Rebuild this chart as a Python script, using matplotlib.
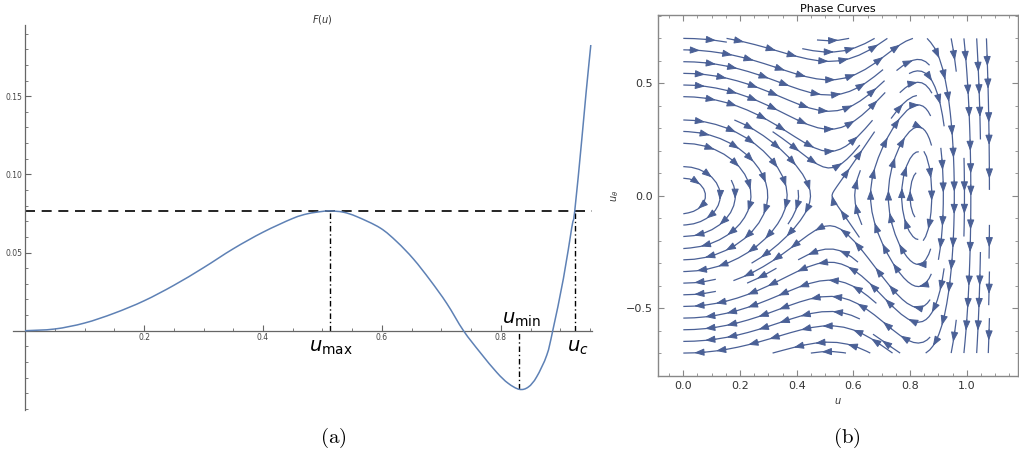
import numpy as np
import matplotlib
matplotlib.use("Agg")
import matplotlib.pyplot as plt
from matplotlib.patches import FancyArrowPatch, ArrowStyle, PathPatch
from matplotlib.path import Path
from matplotlib.ticker import MultipleLocator, FixedLocator, FormatStrFormatter, FuncFormatter

# ---- data ----
u_vals = [0.0, 0.05, 0.10, 0.15, 0.20, 0.25, 0.30, 0.35, 0.40, 0.45,
          0.475, 0.50, 0.513, 0.535, 0.558, 0.597, 0.625, 0.653, 0.681, 0.709,
          0.737, 0.765, 0.793, 0.812, 0.831, 0.846, 0.860, 0.877, 0.887, 0.905,
          0.919, 0.924, 0.936, 0.943, 0.951]
F_vals = [0.0, 0.0011, 0.0049, 0.0112, 0.0191, 0.0290, 0.0403, 0.0524, 0.0630, 0.0718,
          0.0748, 0.0763, 0.0766, 0.0758, 0.0729, 0.0657, 0.0569, 0.0458, 0.0323, 0.0174,
          0.0, -0.0139, -0.0267, -0.0336, -0.0375, -0.0360, -0.0295, -0.0156, 0.0, 0.0335,
          0.0660, 0.0766, 0.1230, 0.1520, 0.1827]
u_max, F_max = 0.513, 0.0766
u_min, F_min = 0.831, -0.0375
u_c = 0.924

x_major_a = [0.2, 0.4, 0.6, 0.8]
y_major_a = [0.05, 0.10, 0.15]

# phase-plane ranges
u_range = (0.0, 1.08)
ut_range = (-0.7, 0.7)

curve_col = "#5e81b5"
stream_col = "#4a6096"
axis_col = "#666666"

fig = plt.figure(figsize=(10.2, 4.55), dpi=100)

# ================= panel (a) =================
ax1 = fig.add_axes([13 / 1020, 1 - 410 / 455, 579 / 1020, 385 / 455])
ax1.set_xlim(-0.0202, 0.953)
ax1.set_ylim(-0.0507, 0.1955)
for s in ["top", "right"]:
    ax1.spines[s].set_visible(False)
ax1.spines["left"].set_position(("data", 0))
ax1.spines["bottom"].set_position(("data", 0))
for s in ["left", "bottom"]:
    ax1.spines[s].set_color(axis_col)
    ax1.spines[s].set_linewidth(0.9)
ax1.xaxis.set_major_locator(FixedLocator(x_major_a))
ax1.xaxis.set_minor_locator(MultipleLocator(0.05))
ax1.yaxis.set_major_locator(FixedLocator(y_major_a))
ax1.yaxis.set_minor_locator(MultipleLocator(0.01))
ax1.xaxis.set_major_formatter(FormatStrFormatter("%.1f"))
ax1.yaxis.set_major_formatter(FormatStrFormatter("%.2f"))
ax1.tick_params(which="both", direction="in", colors=axis_col, labelcolor="#444444",
                labelsize=5.5, pad=2)
ax1.tick_params(which="major", length=4, width=0.8)
ax1.tick_params(which="minor", length=2, width=0.6)

# smooth path through the read points (Catmull-Rom -> cubic Bezier)
P = np.column_stack([u_vals, F_vals])
verts = [P[0]]
codes = [Path.MOVETO]
for i in range(len(P) - 1):
    p0 = P[i - 1] if i > 0 else P[i]
    p1, p2 = P[i], P[i + 1]
    p3 = P[i + 2] if i + 2 < len(P) else P[i + 1]
    c1 = p1 + (p2 - p0) / 6.0
    c2 = p2 - (p3 - p1) / 6.0
    verts += [c1, c2, p2]
    codes += [Path.CURVE4] * 3
ax1.add_patch(PathPatch(Path(verts, codes), fill=False, edgecolor=curve_col, lw=1.1,
                        zorder=3))

ax1.plot([0, 0.953], [F_max, F_max], color="black", lw=1.2, dashes=(6, 4))
ax1.plot([u_max, u_max], [0, F_max], color="black", lw=1.0, dashes=(4, 2, 1, 2))
ax1.plot([u_min, u_min], [F_min, 0], color="black", lw=1.0, dashes=(4, 2, 1, 2))
ax1.plot([u_c, u_c], [0, F_max], color="black", lw=1.0, dashes=(4, 2, 1, 2))

ax1.text(0.514, -0.0136, r"$u_{\mathrm{max}}$", fontsize=14, ha="center", va="baseline")
ax1.text(0.835, 0.0043, r"$u_{\mathrm{min}}$", fontsize=14, ha="center", va="baseline")
ax1.text(0.929, -0.0136, r"$u_{c}$", fontsize=14, ha="center", va="baseline")

fig.text(322 / 1020, 1 - 20 / 455, r"$F(u)$", fontsize=7, ha="center", va="center",
         color="#333333")

# ================= panel (b) =================
ax2 = fig.add_axes([658 / 1020, 1 - 376 / 455, 360 / 1020, 361 / 455])

# potential model fitted to the read curve: F = u^2/2 + c1 u^5 + c2 u^10.4
ua = np.array(u_vals)
Fa = np.array(F_vals)
A = np.column_stack([ua ** 5, ua ** 10.4])
coef, *_ = np.linalg.lstsq(A, Fa - 0.5 * ua ** 2, rcond=None)

ug = np.linspace(u_range[0], u_range[1], 140)
vg = np.linspace(ut_range[0], ut_range[1], 140)
UU, VV = np.meshgrid(ug, vg)
dF = UU + 5 * coef[0] * UU ** 4 + 10.4 * coef[1] * UU ** 9.4
sp = ax2.streamplot(UU, VV, VV, -dF, color=stream_col, linewidth=0.9, density=(0.85, 0.95),
                    arrowsize=1.0, arrowstyle="-|>")
for p in list(ax2.patches):
    p.remove()

ax2.set_xlim(-0.0893, 1.1808)
ax2.set_ylim(-0.802, 0.804)

astyle = ArrowStyle("-|>", head_length=0.6, head_width=0.22)
spacing_px = 27.0
for seg in sp.lines.get_segments():
    if len(seg) < 2:
        continue
    disp = ax2.transData.transform(seg)
    d = np.hypot(np.diff(disp[:, 0]), np.diff(disp[:, 1]))
    s = np.concatenate([[0], np.cumsum(d)])
    total = s[-1]
    if total < 12:
        continue
    n = max(1, int(total // spacing_px))
    start = (total - (n - 1) * spacing_px) / 2.0
    for k in range(n):
        sk = start + k * spacing_px
        i = np.searchsorted(s, sk)
        i = min(max(i, 1), len(seg) - 1)
        ia = max(np.searchsorted(s, sk - 3.0), 0)
        ia = min(ia, i - 1)
        ax2.add_patch(FancyArrowPatch(seg[ia], seg[i], arrowstyle=astyle, mutation_scale=10,
                                      color=stream_col, lw=0.7, shrinkA=0, shrinkB=0,
                                      zorder=3))

for s_ in ax2.spines.values():
    s_.set_color("#888888")
    s_.set_linewidth(1.0)
fmt = FuncFormatter(lambda v, p: f"{v:.1f}".replace("-", "\u2212"))
ax2.xaxis.set_major_locator(MultipleLocator(0.2))
ax2.xaxis.set_minor_locator(MultipleLocator(0.05))
ax2.yaxis.set_major_locator(MultipleLocator(0.5))
ax2.yaxis.set_minor_locator(MultipleLocator(0.1))
ax2.xaxis.set_major_formatter(fmt)
ax2.yaxis.set_major_formatter(fmt)
ax2.tick_params(which="both", direction="in", top=True, right=True, colors="#888888",
                labelcolor="#333333", labelsize=8)
ax2.tick_params(which="major", length=4, width=0.8)
ax2.tick_params(which="minor", length=2, width=0.6)
ax2.set_title("Phase Curves", fontsize=8, pad=2)
ax2.set_xlabel(r"$u$", fontsize=7, labelpad=4, color="#333333")
ax2.set_ylabel(r"$u_\theta$", fontsize=7, labelpad=4, color="#333333")

# captions
fig.text(333 / 1020, 1 - 438 / 455, r"$\mathrm{(a)}$", fontsize=15, ha="center",
         va="center", math_fontfamily="cm")
fig.text(847 / 1020, 1 - 438 / 455, r"$\mathrm{(b)}$", fontsize=15, ha="center",
         va="center", math_fontfamily="cm")

fig.savefig("out.png", dpi=100)
